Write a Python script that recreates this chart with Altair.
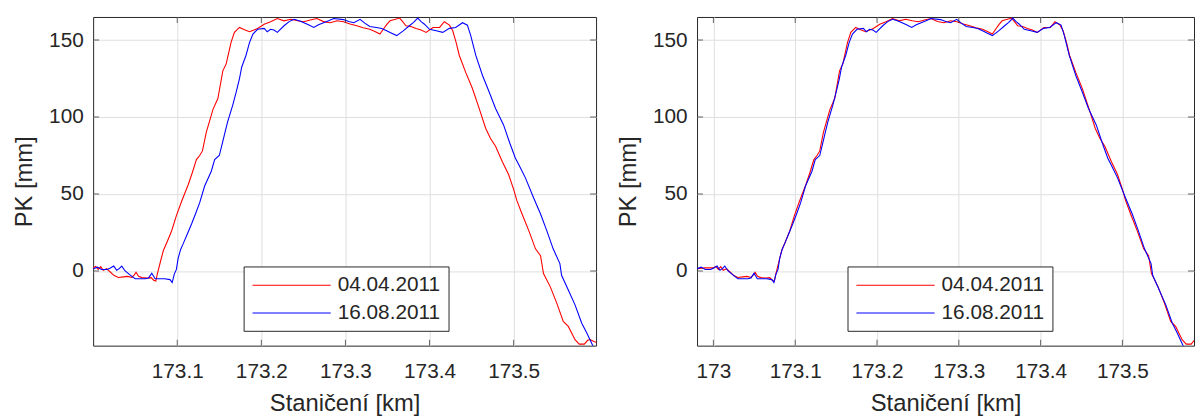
import altair as alt
import pandas as pd

FONT = "Liberation Sans"
SERIES = ["04.04.2011", "16.08.2011"]
COLORS = ["#ff0000", "#0000ff"]

RED_KM = [172.980, 172.990, 173.000, 173.003, 173.006, 173.009, 173.012, 173.016, 173.020, 173.025,
          173.030, 173.036, 173.041, 173.046, 173.049, 173.051, 173.054, 173.058, 173.064, 173.069,
          173.072, 173.0745, 173.0765, 173.080, 173.0835, 173.088, 173.0933, 173.099, 173.105, 173.113,
          173.118, 173.1228, 173.1267, 173.130, 173.1345, 173.1425, 173.1483, 173.1542, 173.1582, 173.164,
          173.168, 173.174, 173.180, 173.186, 173.192, 173.1955, 173.2034, 173.211, 173.219, 173.227,
          173.235, 173.243, 173.2506, 173.258, 173.266, 173.274, 173.282, 173.290, 173.2977, 173.3055,
          173.3134, 173.321, 173.329, 173.335, 173.341, 173.345, 173.349, 173.353, 173.3645, 173.368,
          173.372, 173.378, 173.384, 173.390, 173.396, 173.404, 173.412, 173.4175, 173.4237, 173.4276,
          173.4316, 173.4354, 173.443, 173.451, 173.459, 173.4667, 173.4725, 173.4785, 173.4863, 173.494,
          173.500, 173.504, 173.510, 173.518, 173.526, 173.532, 173.5355, 173.5436, 173.5514, 173.559,
          173.565, 173.573, 173.578, 173.584, 173.588, 173.591, 173.596, 173.600]
RED_PK = [1.5, 2.0, 2.0, 3.0, 1.0, 2.8, 0.5, 1.5, -0.5, -3.0,
          -4.2, -3.8, -3.5, -4.2, -2.5, -0.8, -3.5, -4.3, -4.5, -4.3,
          -6.0, -6.5, -1.5, 6.0, 13.3, 19.0, 26.0, 36.0, 45.0, 56.0,
          64.0, 72.4, 75.0, 78.0, 90.0, 105.0, 112.0, 130.0, 134.5, 148.5,
          155.0, 158.2, 156.7, 155.4, 156.7, 157.5, 160.3, 161.9, 164.0, 162.5,
          163.5, 162.5, 161.9, 163.0, 164.0, 162.0, 161.3, 162.5, 161.9, 160.5,
          159.3, 158.0, 157.0, 155.5, 153.9, 157.0, 160.0, 162.5, 164.3, 162.0,
          159.3, 158.8, 157.5, 156.5, 155.0, 158.2, 158.2, 161.9, 159.7, 156.0,
          148.5, 140.0, 129.0, 118.5, 105.6, 92.7, 86.0, 81.0, 71.3, 62.7,
          53.0, 45.5, 37.0, 26.2, 14.4, 10.0, -1.7, -10.3, -21.0, -32.8,
          -36.0, -44.6, -47.5, -47.5, -45.0, -44.5, -46.0, -46.5]

BLUE_KM = [173.000, 173.005, 173.010, 173.0166, 173.0205, 173.0245, 173.028, 173.031, 173.034, 173.038,
           173.042, 173.046, 173.050, 173.056, 173.062, 173.066, 173.0697, 173.0737, 173.080, 173.085,
           173.0914, 173.094, 173.0965, 173.099, 173.101, 173.104, 173.107, 173.112, 173.117, 173.122,
           173.1267, 173.1326, 173.1405, 173.1445, 173.150, 173.1542, 173.157, 173.160, 173.166, 173.170,
           173.174, 173.1767, 173.1817, 173.186, 173.190, 173.1955, 173.2034, 173.207, 173.211, 173.215,
           173.219, 173.227, 173.233, 173.239, 173.245, 173.2506, 173.256, 173.2624, 173.268, 173.274,
           173.280, 173.2861, 173.2977, 173.304, 173.310, 173.3174, 173.323, 173.329, 173.337, 173.343,
           173.349, 173.355, 173.361, 173.3687, 173.376, 173.381, 173.386, 173.390, 173.394, 173.400,
           173.408, 173.4157, 173.4236, 173.431, 173.4393, 173.445, 173.449, 173.455, 173.463, 173.4708,
           173.4785, 173.488, 173.4955, 173.502, 173.508, 173.514, 173.5237, 173.532, 173.5394, 173.547,
           173.555, 173.557, 173.565, 173.573, 173.581, 173.587, 173.5945]
BLUE_PK = [1.5, 2.5, 1.0, 1.0, 2.0, 3.2, 0.5, 1.5, 3.2, 0.0,
           -1.7, -3.5, -5.0, -5.0, -5.0, -4.5, -1.5, -5.0, -5.0, -5.0,
           -5.6, -7.5, -2.0, 1.0, 8.0, 14.0, 17.6, 24.0, 30.5, 37.5,
           44.4, 55.2, 64.8, 72.4, 75.0, 84.2, 90.6, 97.0, 107.8, 116.0,
           125.0, 132.5, 140.0, 148.5, 153.9, 157.0, 157.6, 155.4, 157.0, 156.5,
           155.0, 159.3, 162.0, 163.5, 162.5, 161.3, 160.0, 158.2, 160.0, 161.3,
           162.5, 164.0, 163.3, 162.0, 161.3, 163.5, 161.0, 158.8, 158.2, 157.5,
           156.0, 154.5, 152.9, 156.0, 159.3, 161.5, 164.3, 162.0, 160.3, 157.0,
           156.0, 155.0, 157.6, 158.2, 161.3, 159.7, 152.9, 140.0, 127.0, 116.4,
           105.6, 94.9, 83.0, 73.4, 67.0, 60.5, 47.6, 37.0, 26.2, 14.4,
           4.8, -2.8, -12.4, -22.0, -33.9, -40.3, -48.9]

SHIFT_KM = 0.02  # alignment of the second measurement in the right panel

X_TICKS_LEFT = [173.1, 173.2, 173.3, 173.4, 173.5]
X_TICKS_RIGHT = [173.0, 173.1, 173.2, 173.3, 173.4, 173.5]
Y_TICKS = [0, 50, 100, 150]
X_DOMAIN_LEFT = [173.0, 173.598]
X_DOMAIN_RIGHT = [172.98, 173.5875]
Y_DOMAIN = [-48.5, 165]

FRAME = "#262626"


def make_df(blue_shift):
    red = pd.DataFrame({"km": RED_KM, "pk": RED_PK, "series": SERIES[0]})
    blue = pd.DataFrame({"km": [k - blue_shift for k in BLUE_KM], "pk": BLUE_PK, "series": SERIES[1]})
    return pd.concat([red, blue], ignore_index=True)


def panel(df, xdom, xticks, width):
    xscale = alt.Scale(domain=xdom, nice=False, zero=False)
    yscale = alt.Scale(domain=Y_DOMAIN, nice=False, zero=False)
    xaxis = alt.Axis(values=xticks, format=".4~g", title="Staničení [km]")
    yaxis = alt.Axis(values=Y_TICKS, title="PK [mm]")

    lines = alt.Chart(df).mark_line(clip=True, strokeWidth=1.1).encode(
        x=alt.X("km:Q", scale=xscale, axis=xaxis),
        y=alt.Y("pk:Q", scale=yscale, axis=yaxis),
        color=alt.Color(
            "series:N",
            scale=alt.Scale(domain=SERIES, range=COLORS),
            legend=alt.Legend(
                title=None, orient="none", legendX=152, legendY=252,
                symbolType="M-1,0H6.9", symbolSize=400, symbolStrokeWidth=1.1,
                symbolFillColor="transparent",
                labelFontSize=21, labelFont=FONT, labelColor=FRAME,
                labelOffset=65, padding=8, rowPadding=7,
                strokeColor=FRAME, fillColor="white",
            ),
        ),
    )

    xt = pd.DataFrame({"km": xticks})
    yt = pd.DataFrame({"pk": Y_TICKS})
    tick_mark = dict(size=12, thickness=1, color=FRAME, clip=True)
    bottom = alt.Chart(xt).mark_tick(orient="vertical", **tick_mark).encode(
        x=alt.X("km:Q", scale=xscale, axis=xaxis),
        y=alt.YDatum(Y_DOMAIN[0], scale=yscale, axis=yaxis),
    )
    top = alt.Chart(xt).mark_tick(orient="vertical", **tick_mark).encode(
        x=alt.X("km:Q", scale=xscale, axis=xaxis),
        y=alt.YDatum(Y_DOMAIN[1], scale=yscale, axis=yaxis),
    )
    left = alt.Chart(yt).mark_tick(orient="horizontal", **tick_mark).encode(
        y=alt.Y("pk:Q", scale=yscale, axis=yaxis),
        x=alt.XDatum(xdom[0], scale=xscale, axis=xaxis),
    )
    right = alt.Chart(yt).mark_tick(orient="horizontal", **tick_mark).encode(
        y=alt.Y("pk:Q", scale=yscale, axis=yaxis),
        x=alt.XDatum(xdom[1], scale=xscale, axis=xaxis),
    )
    return alt.layer(lines, bottom, top, left, right).properties(width=width, height=332)


left_panel = panel(make_df(0.0), X_DOMAIN_LEFT, X_TICKS_LEFT, 508)
right_panel = panel(make_df(SHIFT_KM), X_DOMAIN_RIGHT, X_TICKS_RIGHT, 502)

chart = (
    alt.hconcat(left_panel, right_panel, spacing=19)
    .resolve_scale(color="independent")
    .resolve_legend(color="independent")
    .configure(padding={"left": 4, "top": 6, "right": 0, "bottom": 0}, font=FONT)
    .configure_view(stroke=FRAME, strokeWidth=1)
    .configure_axis(
        grid=True, gridColor="#dfdfdf", gridWidth=1, domain=False, ticks=False,
        labelFont=FONT, labelFontSize=21, labelColor=FRAME,
        titleFont=FONT, titleFontSize=24, titleColor=FRAME, titleFontWeight="normal",
    )
    .configure_axisX(labelPadding=15, titlePadding=10)
    .configure_axisY(labelPadding=10, titlePadding=12)
)

chart.save("out.html", embed_options={"renderer": "svg", "actions": False})
